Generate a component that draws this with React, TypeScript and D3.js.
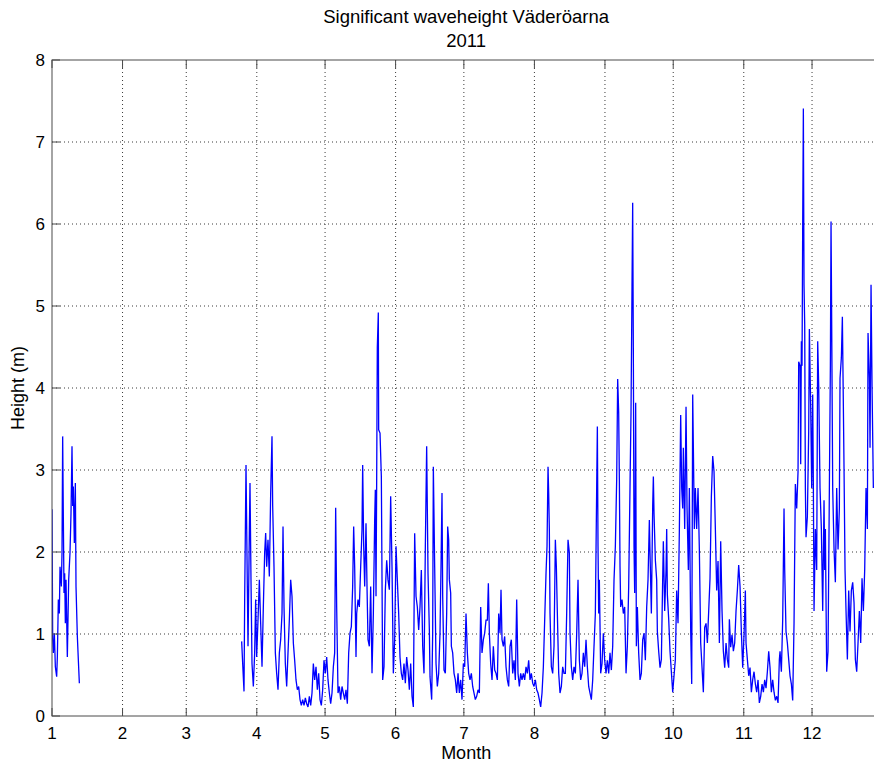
import React from "react";
import * as d3 from "d3";

// ---- data ----
const monthStartDays = [1, 32, 60, 91, 121, 152, 182, 213, 244, 274, 305, 335];
const monthLabels = ["1", "2", "3", "4", "5", "6", "7", "8", "9", "10", "11", "12"];
const yTicks = [0, 1, 2, 3, 4, 5, 6, 7, 8];

// January segment (day of year, significant wave height in m)
const janDay = [1.0, 1.3, 1.59, 2.03, 2.47, 3.05, 3.35, 3.79, 4.23, 4.52, 5.11, 5.4, 5.69, 5.98, 6.28, 6.57, 6.86, 7.16, 7.74, 8.33, 8.91, 9.35, 9.79, 10.09, 10.38, 10.82, 11.26, 11.55, 12.14, 12.58, 13.02];
const janHs = [2.52, 0.93, 0.77, 1.01, 0.6, 0.48, 0.72, 1.42, 1.25, 1.82, 1.58, 1.99, 3.41, 2.43, 1.5, 1.74, 1.13, 1.66, 0.72, 1.66, 1.99, 2.47, 3.29, 2.56, 2.8, 2.11, 2.84, 1.58, 0.97, 0.68, 0.4];

// Spring segment (end of March to end of June)
const springDay = [84.35, 84.79, 85.38, 85.67, 86.26, 86.84, 87.14, 87.72, 88.01, 88.45, 88.89, 89.48, 90.06, 90.5, 90.94, 91.53, 92.12, 92.7, 93.29, 93.87, 94.46, 94.9, 95.34, 95.92, 96.51, 97.1, 97.68, 97.98, 98.56, 99.15, 99.73, 100.32, 100.91, 101.49, 102.08, 102.52, 102.96, 103.54, 104.13, 104.71, 105.3, 105.89, 106.47, 107.06, 107.64, 108.23, 108.82, 109.4, 109.99, 110.57, 111.16, 111.75, 112.33, 112.92, 113.5, 114.09, 114.68, 115.26, 115.85, 116.43, 117.02, 117.61, 118.19, 118.78, 119.36, 119.95, 120.53, 121.12, 121.71, 122.29, 122.88, 123.46, 124.05, 124.64, 125.22, 125.66, 126.1, 126.69, 127.27, 127.86, 128.45, 129.03, 129.62, 130.2, 130.79, 131.38, 131.96, 132.55, 133.13, 133.57, 134.01, 134.6, 134.89, 135.48, 136.06, 136.65, 137.23, 137.53, 137.97, 138.41, 138.99, 139.43, 139.87, 140.46, 141.04, 141.63, 142.22, 142.8, 143.09, 143.39, 143.68, 143.96, 144.4, 144.56, 145.15, 145.73, 146.32, 146.9, 147.49, 148.08, 148.66, 149.25, 149.83, 150.42, 151.0, 151.59, 152.18, 152.76, 153.35, 153.93, 154.52, 155.11, 155.69, 156.28, 156.86, 157.45, 158.04, 158.62, 159.21, 159.79, 160.38, 160.97, 161.55, 162.14, 162.72, 163.31, 163.9, 164.48, 165.07, 165.65, 166.24, 166.83];
const springHs = [0.91, 0.64, 0.3, 1.42, 3.06, 1.58, 0.85, 2.23, 2.84, 1.66, 0.64, 0.36, 0.77, 1.42, 0.72, 1.17, 1.66, 1.13, 0.6, 1.33, 1.99, 2.23, 1.82, 2.15, 1.7, 2.72, 3.41, 2.56, 1.82, 0.77, 0.52, 0.32, 0.77, 0.93, 1.25, 2.31, 1.33, 0.64, 0.36, 0.77, 1.17, 1.66, 1.46, 0.89, 0.68, 0.44, 0.32, 0.36, 0.2, 0.13, 0.2, 0.13, 0.22, 0.15, 0.11, 0.24, 0.13, 0.28, 0.64, 0.44, 0.6, 0.32, 0.52, 0.2, 0.13, 0.32, 0.68, 0.52, 0.72, 0.44, 0.28, 0.15, 0.28, 0.6, 0.77, 2.54, 1.33, 0.28, 0.36, 0.2, 0.36, 0.28, 0.2, 0.32, 0.15, 0.77, 1.01, 1.09, 1.58, 2.31, 1.82, 0.72, 1.25, 1.42, 1.33, 1.82, 2.27, 3.06, 2.07, 1.58, 2.35, 1.58, 0.93, 0.85, 1.58, 0.52, 1.25, 2.39, 2.76, 1.46, 2.88, 4.49, 4.92, 3.49, 3.45, 2.92, 0.44, 0.6, 1.54, 1.9, 1.66, 1.54, 2.68, 1.82, 0.52, 0.93, 2.07, 1.66, 1.25, 0.72, 0.52, 0.44, 0.64, 0.4, 0.72, 0.56, 0.32, 0.64, 0.24, 0.11, 2.23, 1.46, 1.33, 1.05, 1.33, 1.78, 0.85, 0.52, 2.07, 3.29, 1.74, 1.05];

// Summer segment (July to late September)
const summerDay = [167.12, 167.85, 168.29, 168.58, 169.17, 169.76, 170.34, 170.93, 171.51, 171.95, 172.39, 172.69, 173.27, 173.86, 174.44, 174.88, 175.32, 175.62, 176.2, 176.5, 177.08, 177.67, 178.25, 178.84, 179.43, 180.01, 180.6, 181.18, 181.77, 182.35, 182.94, 183.53, 184.11, 184.7, 185.28, 185.87, 186.46, 187.04, 187.63, 188.21, 188.8, 189.39, 189.97, 190.56, 191.14, 191.73, 192.32, 192.76, 193.2, 193.78, 194.37, 194.95, 195.54, 196.13, 196.71, 197.3, 197.88, 198.32, 198.76, 199.35, 199.93, 200.52, 201.11, 201.69, 202.28, 202.86, 203.45, 204.04, 204.62, 205.21, 205.79, 206.38, 206.96, 207.55, 208.14, 208.72, 209.31, 209.89, 210.48, 211.07, 211.65, 212.24, 212.82, 213.41, 214.0, 214.58, 215.17, 215.75, 216.34, 216.93, 217.51, 218.1, 218.54, 218.98, 219.27, 219.56, 219.86, 220.44, 221.03, 221.61, 222.2, 222.64, 223.08, 223.67, 224.25, 224.84, 225.42, 226.01, 226.6, 227.18, 227.77, 228.35, 228.65, 229.23, 229.82, 230.4, 230.99, 231.58, 232.16, 232.75, 233.33, 233.92, 234.51, 235.09, 235.68, 236.26, 236.85, 237.44, 238.02, 238.61, 239.19, 239.78, 240.37, 240.66, 240.95, 241.24, 241.54, 242.12, 242.71, 243.29, 243.88, 244.47, 245.05, 245.64, 246.22, 246.81, 247.4, 247.98, 248.57, 249.15, 249.59, 250.03, 250.33, 250.62, 250.91, 251.5, 252.08, 252.67, 253.26, 253.84, 254.43, 255.01, 255.45, 255.89, 256.18, 256.48, 256.77, 257.06, 257.5, 257.8, 258.24, 258.82, 259.41, 259.99, 260.58, 261.17, 261.75, 262.34, 262.92, 263.51, 263.8, 264.39, 264.98, 265.27, 265.56, 266.15, 266.73];
const summerHs = [0.48, 0.2, 1.01, 3.04, 1.82, 0.64, 0.36, 0.52, 1.01, 1.82, 2.72, 1.46, 0.56, 0.52, 1.25, 2.31, 2.15, 1.66, 1.5, 0.85, 0.77, 0.52, 0.44, 0.28, 0.52, 0.28, 0.44, 0.2, 0.64, 0.6, 1.25, 0.77, 0.52, 0.44, 0.52, 0.36, 0.28, 0.2, 0.24, 0.32, 0.28, 1.33, 0.77, 0.93, 1.01, 1.17, 1.17, 1.62, 1.01, 0.64, 0.44, 0.85, 0.56, 0.52, 0.44, 1.25, 1.01, 1.54, 0.93, 0.85, 0.97, 0.6, 0.44, 0.36, 0.85, 0.93, 0.52, 0.68, 0.44, 1.42, 0.52, 0.36, 0.52, 0.44, 0.52, 0.44, 0.6, 0.52, 0.68, 0.44, 0.52, 0.4, 0.36, 0.44, 0.32, 0.28, 0.2, 0.11, 0.28, 0.6, 1.17, 1.74, 2.07, 3.04, 2.72, 2.27, 1.25, 0.6, 0.52, 0.85, 2.15, 1.82, 1.25, 0.52, 0.28, 0.36, 0.6, 0.52, 0.52, 1.25, 2.15, 1.99, 1.01, 0.6, 0.44, 0.6, 0.52, 1.01, 1.66, 0.68, 0.44, 0.52, 0.77, 0.6, 0.93, 0.6, 0.36, 0.28, 0.2, 0.44, 0.85, 1.25, 2.8, 3.53, 2.07, 1.25, 1.66, 0.52, 0.64, 1.01, 0.68, 0.52, 0.68, 0.52, 0.77, 0.56, 0.85, 1.66, 2.07, 2.88, 4.11, 3.7, 2.88, 1.82, 1.33, 1.42, 1.25, 1.33, 0.52, 0.85, 1.58, 2.8, 3.7, 5.24, 6.26, 4.4, 2.07, 1.5, 3.82, 0.85, 1.33, 0.77, 0.44, 0.52, 0.93, 1.01, 0.68, 1.33, 1.66, 2.39, 1.99, 1.25, 2.56, 2.92, 2.47, 1.9, 1.66];

// Autumn / winter segment (end of September to end of December)
const autumnDay = [267.03, 267.61, 268.2, 268.79, 269.37, 269.66, 270.25, 270.84, 271.13, 271.42, 272.01, 272.59, 273.18, 273.77, 274.35, 274.94, 275.52, 276.11, 276.7, 277.28, 277.72, 278.16, 278.45, 279.04, 279.63, 280.07, 280.65, 281.09, 281.68, 282.12, 282.56, 282.85, 283.29, 283.73, 284.31, 284.9, 285.48, 286.07, 286.66, 287.24, 287.83, 288.42, 289.0, 289.59, 290.17, 290.76, 291.35, 291.93, 292.52, 293.1, 293.69, 294.28, 294.86, 295.45, 296.03, 296.62, 297.21, 297.79, 298.38, 298.67, 299.25, 299.84, 300.43, 301.01, 301.6, 302.18, 302.77, 303.36, 303.94, 304.53, 305.11, 305.7, 305.99, 306.58, 307.17, 307.75, 308.34, 308.92, 309.51, 310.1, 310.68, 311.27, 311.85, 312.44, 313.03, 313.61, 314.2, 314.78, 315.37, 315.96, 316.54, 317.13, 317.71, 318.3, 318.89, 319.47, 320.06, 320.64, 320.94, 321.52, 322.11, 322.69, 322.99, 323.57, 324.16, 324.74, 325.33, 325.92, 326.5, 327.09, 327.67, 328.26, 328.85, 329.14, 329.73, 330.02, 330.31, 330.61, 330.9, 331.19, 331.48, 331.78, 332.07, 332.36, 332.95, 333.53, 333.83, 334.41, 334.85, 335.29, 335.59, 335.88, 336.46, 337.05, 337.49, 337.93, 338.51, 339.1, 339.69, 340.27, 340.57, 340.86, 341.44, 342.03, 342.62, 343.06, 343.35, 343.64, 344.08, 344.67, 345.25, 345.84, 346.43, 347.01, 347.3, 347.89, 348.33, 348.77, 349.06, 349.5, 349.94, 350.53, 351.11, 351.7, 352.28, 352.87, 353.46, 354.04, 354.63, 355.21, 355.8, 356.39, 356.97, 357.56, 358.14, 358.73, 359.32, 359.61, 360.2, 360.49, 360.93, 361.37, 361.95];
const autumnHs = [1.03, 0.79, 0.59, 0.69, 1.68, 2.13, 1.28, 1.78, 2.28, 1.48, 1.18, 0.79, 0.54, 0.29, 0.49, 0.69, 1.53, 1.13, 2.28, 3.67, 2.78, 2.53, 3.27, 2.28, 3.77, 2.53, 1.78, 2.78, 1.03, 0.39, 3.92, 3.27, 2.28, 2.78, 2.28, 2.78, 2.03, 0.89, 0.59, 0.29, 1.08, 1.13, 0.89, 1.28, 1.68, 2.68, 3.17, 2.98, 2.28, 1.53, 1.89, 0.89, 2.13, 1.28, 0.79, 0.59, 0.89, 0.69, 0.59, 1.18, 0.84, 0.99, 0.79, 0.89, 1.28, 1.53, 1.84, 1.58, 1.03, 0.59, 0.99, 1.53, 0.89, 0.69, 0.49, 0.59, 0.29, 0.44, 0.54, 0.39, 0.29, 0.44, 0.16, 0.24, 0.39, 0.29, 0.44, 0.34, 0.54, 0.79, 0.59, 0.29, 0.44, 0.29, 0.19, 0.24, 0.16, 0.69, 0.79, 0.54, 1.18, 2.53, 1.78, 1.03, 0.89, 0.69, 0.49, 0.39, 0.19, 1.13, 2.83, 2.53, 2.98, 4.32, 4.27, 3.07, 4.57, 4.27, 6.01, 7.41, 5.26, 4.77, 2.78, 2.18, 2.43, 3.47, 4.72, 3.77, 2.78, 3.92, 2.78, 1.28, 2.28, 1.78, 4.57, 4.02, 2.78, 2.28, 1.28, 2.63, 1.78, 2.28, 0.54, 0.79, 2.78, 4.27, 6.03, 4.77, 2.78, 2.03, 1.63, 2.78, 2.03, 2.53, 4.12, 4.37, 4.87, 3.77, 3.02, 1.78, 1.28, 0.69, 1.53, 1.03, 1.53, 1.63, 1.38, 0.69, 0.54, 0.89, 1.28, 0.89, 1.68, 1.28, 1.78, 2.78, 2.28, 4.67, 4.12, 3.27, 5.26, 4.02, 2.78];

const titleLines = ["Significant waveheight Väderöarna", "2011"];
const xLabel = "Month";
const yLabel = "Height (m)";

const W = 874;
const H = 765;
const FONT = "'Liberation Sans', Arial, Helvetica, sans-serif";

export default function App() {
  const left = 52;
  const top = 60;
  const bottom = 716;
  const right = 880.3;

  const x = d3.scaleLinear().domain([1, 365]).range([left, right]);
  const y = d3.scaleLinear().domain([0, 8]).range([bottom, top]);

  const line = d3
    .line<[number, number]>()
    .x((d) => x(d[0]))
    .y((d) => y(d[1]));

  const segments: [number[], number[]][] = [
    [janDay, janHs],
    [springDay, springHs],
    [summerDay, summerHs],
    [autumnDay, autumnHs],
  ];
  // spring, summer and autumn are consecutive parts of one continuous record
  const continuous: [number, number][] = [];
  for (let s = 1; s < segments.length; s++) {
    const [dd, vv] = segments[s];
    dd.forEach((d, i) => continuous.push([d, vv[i]]));
  }
  const jan: [number, number][] = janDay.map((d, i) => [d, janHs[i]]);

  const tick = 8;
  const gridColor = "#3a3a3a";
  const axisColor = "#4a4a4a";

  return (
    <svg
      width={W}
      height={H}
      style={{ position: "absolute", left: 0, top: 0, background: "#fff" }}
      fontFamily={FONT}
    >
      <rect x={0} y={0} width={W} height={H} fill="#fff" />
      <defs>
        <clipPath id="plotclip">
          <rect x={left} y={top} width={right - left} height={bottom - top} />
        </clipPath>
      </defs>

      {/* grid */}
      {monthStartDays.slice(1).map((d) => (
        <line
          key={"gx" + d}
          x1={x(d)}
          x2={x(d)}
          y1={top}
          y2={bottom}
          stroke={gridColor}
          strokeWidth={1}
          strokeDasharray="1 3"
        />
      ))}
      {yTicks.slice(1, -1).map((v) => (
        <line
          key={"gy" + v}
          x1={left}
          x2={right}
          y1={y(v)}
          y2={y(v)}
          stroke={gridColor}
          strokeWidth={1}
          strokeDasharray="1 3"
        />
      ))}

      {/* data */}
      <g clipPath="url(#plotclip)">
        <path d={line(jan) || ""} fill="none" stroke="#0000ff" strokeWidth={1.3} strokeLinejoin="miter" strokeMiterlimit={2} />
        <path d={line(continuous) || ""} fill="none" stroke="#0000ff" strokeWidth={1.3} strokeLinejoin="miter" strokeMiterlimit={2} />
      </g>

      {/* box */}
      <rect
        x={left}
        y={top}
        width={right - left}
        height={bottom - top}
        fill="none"
        stroke={axisColor}
        strokeWidth={1}
      />

      {/* x ticks */}
      {monthStartDays.map((d, i) => (
        <g key={"xt" + d}>
          <line x1={x(d)} x2={x(d)} y1={bottom} y2={bottom - tick} stroke={axisColor} />
          <line x1={x(d)} x2={x(d)} y1={top} y2={top + tick} stroke={axisColor} />
          <text x={x(d)} y={739} textAnchor="middle" fontSize={17} fill="#000">
            {monthLabels[i]}
          </text>
        </g>
      ))}

      {/* y ticks */}
      {yTicks.map((v) => (
        <g key={"yt" + v}>
          <line x1={left} x2={left + tick} y1={y(v)} y2={y(v)} stroke={axisColor} />
          <text x={45} y={y(v) + 6} textAnchor="end" fontSize={17} fill="#000">
            {v}
          </text>
        </g>
      ))}

      {/* labels */}
      <text x={(left + right) / 2} y={23} textAnchor="middle" fontSize={18.5} fill="#000">
        {titleLines[0]}
      </text>
      <text x={(left + right) / 2} y={47} textAnchor="middle" fontSize={18.5} fill="#000">
        {titleLines[1]}
      </text>
      <text x={(left + right) / 2} y={759} textAnchor="middle" fontSize={18} fill="#000">
        {xLabel}
      </text>
      <text
        transform={`translate(24, ${(top + bottom) / 2}) rotate(-90)`}
        textAnchor="middle"
        fontSize={18}
        fill="#000"
      >
        {yLabel}
      </text>
    </svg>
  );
}
